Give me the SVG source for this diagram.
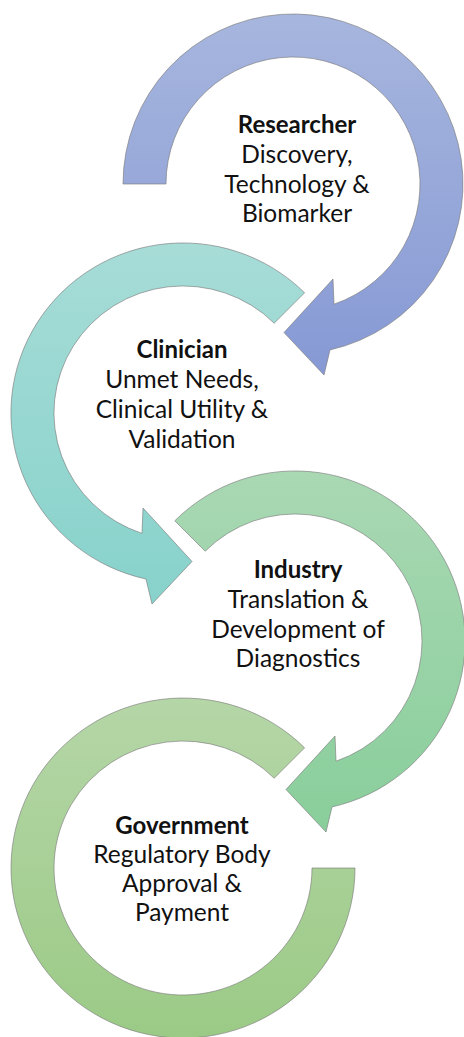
<svg xmlns="http://www.w3.org/2000/svg" width="464" height="1037" viewBox="0 0 464 1037">
<style>
.arr{stroke:#7a7a7a;stroke-width:0.8;stroke-opacity:0.8;stroke-linejoin:miter}
.t{font-family:Lato,"Liberation Sans",sans-serif;font-size:24.5px;fill:#111;text-anchor:middle}
.b{font-weight:bold;font-size:24px}
</style>
<defs>
<linearGradient id="gBlue" x1="0" y1="0" x2="0" y2="1"><stop offset="0" stop-color="#A7B6DE"/><stop offset="1" stop-color="#8699D4"/></linearGradient>
<linearGradient id="gTeal" x1="0" y1="0" x2="0" y2="1"><stop offset="0" stop-color="#A7DCD7"/><stop offset="1" stop-color="#87D2CB"/></linearGradient>
<linearGradient id="gGreen" x1="0" y1="0" x2="0" y2="1"><stop offset="0" stop-color="#A9D8B3"/><stop offset="1" stop-color="#89CE9B"/></linearGradient>
<linearGradient id="gGov" x1="0" y1="0" x2="0" y2="1"><stop offset="0" stop-color="#B5D6A7"/><stop offset="1" stop-color="#9BCA86"/></linearGradient>
</defs>
<g id="connectors"/>
<g id="researcher">
<path class="arr" fill="url(#gBlue)" d="M123,184 A170,170 0 1 1 330,349.9 L324,375 L284,332.5 L333,279 L334,304.2 A127,127 0 1 0 166,184 Z"/>
<text class="t b" x="297" y="133">Researcher</text>
<text class="t" x="297" y="163">Discovery,</text>
<text class="t" x="297" y="193">Technology &amp;</text>
<text class="t" x="297" y="222">Biomarker</text>
</g>
<g id="clinician">
<path class="arr" fill="url(#gTeal)" d="M304.6,292.8 A172,170 0 1 0 146,579 L152,604 L192,561.5 L143,508 L142,533.4 A129,127 0 1 1 274.2,323.2 Z"/>
<text class="t b" x="182" y="358">Clinician</text>
<text class="t" x="182" y="388">Unmet Needs,</text>
<text class="t" x="182" y="418">Clinical Utility &amp;</text>
<text class="t" x="182" y="448">Validation</text>
</g>
<g id="industry">
<path class="arr" fill="url(#gGreen)" d="M174.8,520.8 A170,170 0 1 1 332,806.9 L326,832 L286,789.5 L335,736 L336,761.2 A127,127 0 1 0 205.2,551.2 Z"/>
<text class="t b" x="298" y="578">Industry</text>
<text class="t" x="298" y="608">Translation &amp;</text>
<text class="t" x="298" y="638">Development of</text>
<text class="t" x="298" y="667">Diagnostics</text>
</g>
<g id="government">
<path class="arr" fill="url(#gGov)" d="M355,868 A172,170 0 1 1 304.6,747.8 L274.2,778.2 A129,127 0 1 0 312,868 Z"/>
<text class="t b" x="182" y="834">Government</text>
<text class="t" x="182" y="863">Regulatory Body</text>
<text class="t" x="182" y="892">Approval &amp;</text>
<text class="t" x="182" y="921">Payment</text>
</g>
</svg>
